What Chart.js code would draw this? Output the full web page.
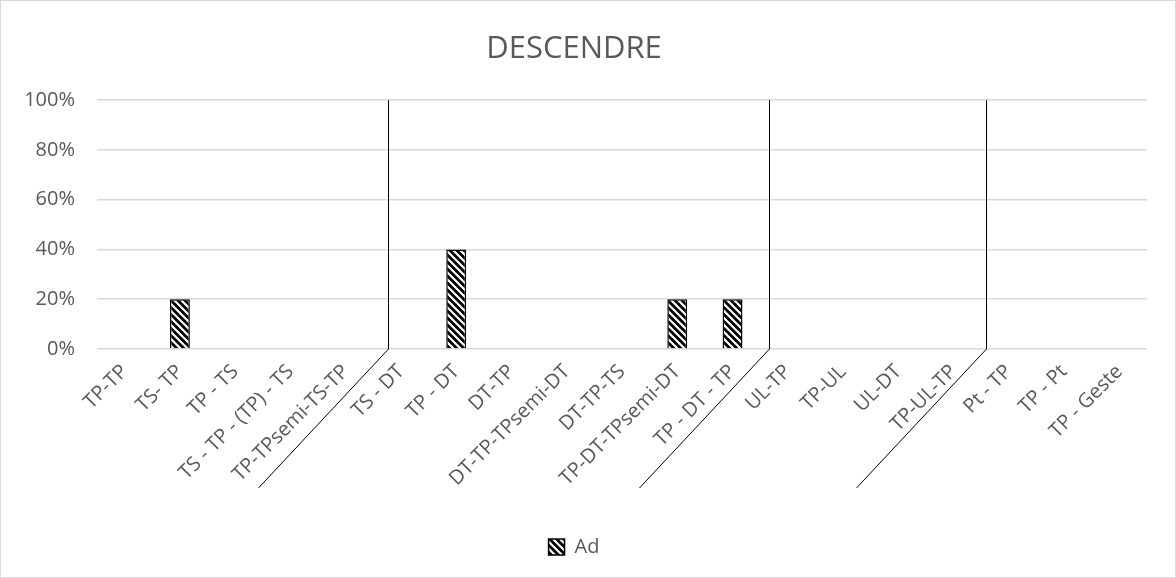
<!DOCTYPE html>
<html>
<head>
<meta charset="utf-8">
<script src="https://cdn.jsdelivr.net/npm/chart.js@4"></script>
<style>
  html, body { margin: 0; padding: 0; background: #fff; }
  #wrap { width: 1174px; height: 576px; border: 1px solid #d9d9d9; position: relative; }
</style>
</head>
<body>
<div id="wrap"><canvas id="myChart" width="1174" height="576"></canvas></div>
<script>
// DATA
const categories = ['TP-TP', 'TS- TP', 'TP - TS', 'TS - TP - (TP) - TS', 'TP-TPsemi-TS-TP',
    'TS - DT', 'TP - DT', 'DT-TP', 'DT-TP-TPsemi-DT', 'DT-TP-TS', 'TP-DT-TPsemi-DT', 'TP - DT - TP',
    'UL-TP', 'TP-UL', 'UL-DT', 'TP-UL-TP', 'Pt - TP', 'TP - Pt', 'TP - Geste'];
const adValues = [0, 20, 0, 0, 0, 0, 40, 0, 0, 0, 20, 20, 0, 0, 0, 0, 0, 0, 0];
const yTicks = [0, 20, 40, 60, 80, 100];
// group dividers, in category units
const dividers = [4.77, 11.66, 15.59];

// hatch pattern (black with white \ stripes)
function makeHatch(){
    const c = document.createElement('canvas');
    c.width = 7; c.height = 7;
    const g = c.getContext('2d');
    g.fillStyle = '#000';
    g.fillRect(0, 0, 7, 7);
    g.strokeStyle = '#fff';
    g.lineWidth = 2.2;
    g.beginPath();
    g.moveTo(-1, -1); g.lineTo(8, 8);
    g.moveTo(-8, -1); g.lineTo(1, 8);
    g.moveTo(6, -1); g.lineTo(15, 8);
    g.stroke();
    return g.createPattern(c, 'repeat');
}
const hatch = makeHatch();

const grey = '#595959';
const fontFam = "'Open Sans', sans-serif";

// divider lines plugin
const dividerPlugin = {
    id: 'dividers',
    afterDatasetsDraw(chart){
        const x = chart.scales.x, y = chart.scales.y;
        const ctx = chart.ctx;
        ctx.save();
        ctx.strokeStyle = '#000';
        ctx.lineWidth = 1;
        dividers.forEach(d=>{
            const px = Math.round(x.getPixelForValue(d)) + 0.5;
            const top = y.getPixelForValue(100);
            const bottom = y.getPixelForValue(0);
            ctx.beginPath();
            ctx.moveTo(px, top);
            ctx.lineTo(px, bottom);
            ctx.lineTo(px - 130, bottom + 139);
            ctx.stroke();
        });
        ctx.restore();
    }
};

const ctx = document.querySelector('#myChart').getContext('2d');
const myChart = new Chart(ctx, {
    type: 'bar',
    data: {
        labels: categories,
        datasets: [{
            label: 'Ad',
            data: adValues,
            backgroundColor: hatch,
            borderColor: '#000',
            borderWidth: 1.5,
            categoryPercentage: 1,
            barPercentage: 0.36
        }]
    },
    options: {
        responsive: false,
        animation: false,
        layout: { padding: { left: 0, right: 28, top: 0, bottom: 10 } },
        plugins: {
            title: {
                display: true,
                text: 'DESCENDRE',
                color: grey,
                font: { family: fontFam, size: 31, weight: 'normal' },
                padding: { top: 30, bottom: 32 }
            },
            legend: {
                position: 'bottom',
                labels: {
                    color: grey,
                    font: { family: fontFam, size: 20 },
                    boxWidth: 16,
                    boxHeight: 16,
                    padding: 8
                }
            },
            tooltip: { enabled: false }
        },
        scales: {
            x: {
                grid: { display: false },
                border: { display: false },
                ticks: {
                    color: grey,
                    font: { family: fontFam, size: 20 },
                    maxRotation: 45,
                    minRotation: 45,
                    autoSkip: false
                },
                afterFit(scale){ scale.height = 180; }
            },
            y: {
                min: 0,
                max: 100,
                afterBuildTicks(scale){ scale.ticks = yTicks.map(v=>({value: v})); },
                grid: { color: '#d9d9d9', lineWidth: 1.5, drawTicks: false },
                border: { display: false },
                ticks: {
                    color: grey,
                    font: { family: fontFam, size: 20 },
                    padding: 22,
                    callback: v => v + '%'
                },
                afterFit(scale){ scale.width = 96; }
            }
        }
    },
    plugins: [dividerPlugin]
});
</script>
</body>
</html>
